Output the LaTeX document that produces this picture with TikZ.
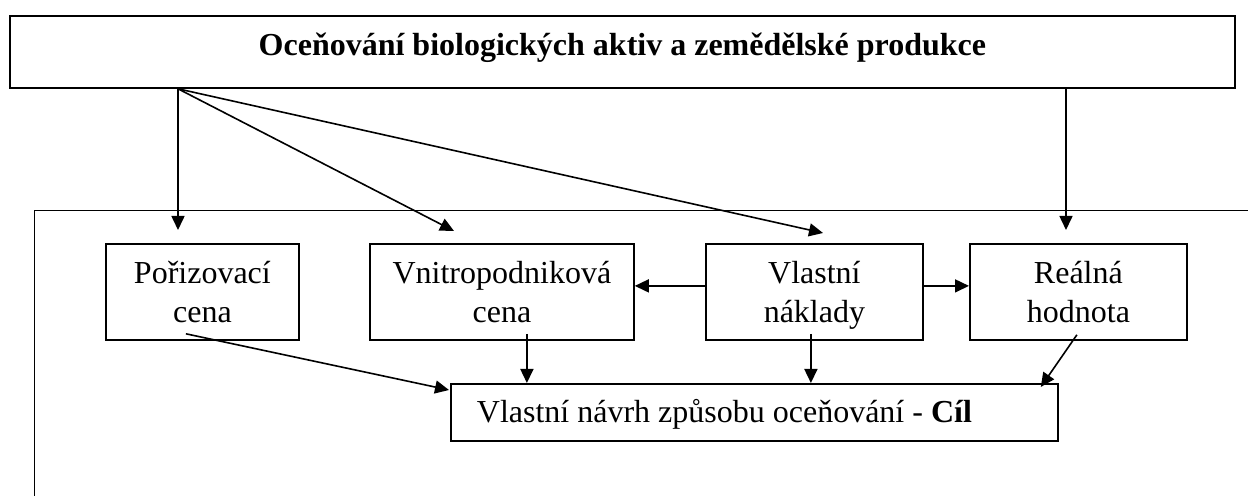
\documentclass[tikz,border=0pt]{standalone}
\usepackage{fontspec}
\setmainfont{Liberation Serif}
\usetikzlibrary{arrows.meta}

\begin{document}
\begin{tikzpicture}[x=0.5pt, y=-0.5pt,
        box/.style={draw, line width=0.9pt, inner sep=0pt, align=center, anchor=north west},
        pair/.style={box, text height=39.5pt, text depth=8.5pt},
        arr/.style={-{Triangle[length=7pt, width=6.5pt]}, line width=0.8pt},
        font=\fontsize{16}{19.5}\selectfont]
        \useasboundingbox (0, 0) rectangle (1248, 496);
        \draw[line width=0.5pt] (1248, 211) -- (34, 211) -- (34, 496);

        \node[box, minimum width=612.5pt, text height=20pt, text depth=16pt, font=\fontsize{16}{19.5}\selectfont\bfseries] (title) at (9, 15) {Oceňování biologických aktiv a zemědělské produkce};

        \node[pair, minimum width=96.5pt] (poriz) at (105, 243) {Pořizovací\\cena};
        \node[pair, minimum width=132pt] (vnitro) at (369, 243) {Vnitropodniková\\cena};
        \node[pair, minimum width=108.5pt] (vlast) at (705, 243) {Vlastní\\náklady};
        \node[pair, minimum width=108.5pt] (real) at (969, 243) {Reálná\\hodnota};
        \node[box, text width=277.5pt, inner xsep=13pt, align=flush left, text height=19.5pt, text depth=9pt] (goal) at (450, 383) {Vlastní návrh způsobu oceňování - \textbf{Cíl}};

        % arrows from the top box
        \coordinate (e1) at (178, 230);
        \coordinate (e2) at (454, 231);
        \coordinate (e3) at (823, 233);
        \coordinate (e4) at (1066, 230);
        \coordinate (fan) at (title.south -| e1);
        \draw[arr] (fan) -- (e1);
        \draw[arr] (fan) -- (e2);
        \draw[arr] (fan) -- (e3);
        \draw[arr] (title.south -| e4) -- (e4);

        \draw[arr] ([yshift=3pt]vlast.west) -- ([yshift=3pt]vnitro.east);
        \draw[arr] ([yshift=3pt]vlast.east) -- ([yshift=3pt]real.west);

        % arrows into the goal
        \draw[arr] ([shift={(-16.5, -7)}]poriz.south) -- ([shift={(-1, 7)}]goal.north west);
        \draw[arr] ([shift={(25, -7)}]vnitro.south) coordinate (v1) -- (v1 |- goal.north);
        \draw[arr] ([shift={(-3.5, -7)}]vlast.south) coordinate (v2) -- (v2 |- goal.north);
        \draw[arr] ([shift={(-1.5, -6)}]real.south) -- ([shift={(-18, 4)}]goal.north east);
    \end{tikzpicture}
\end{document}
